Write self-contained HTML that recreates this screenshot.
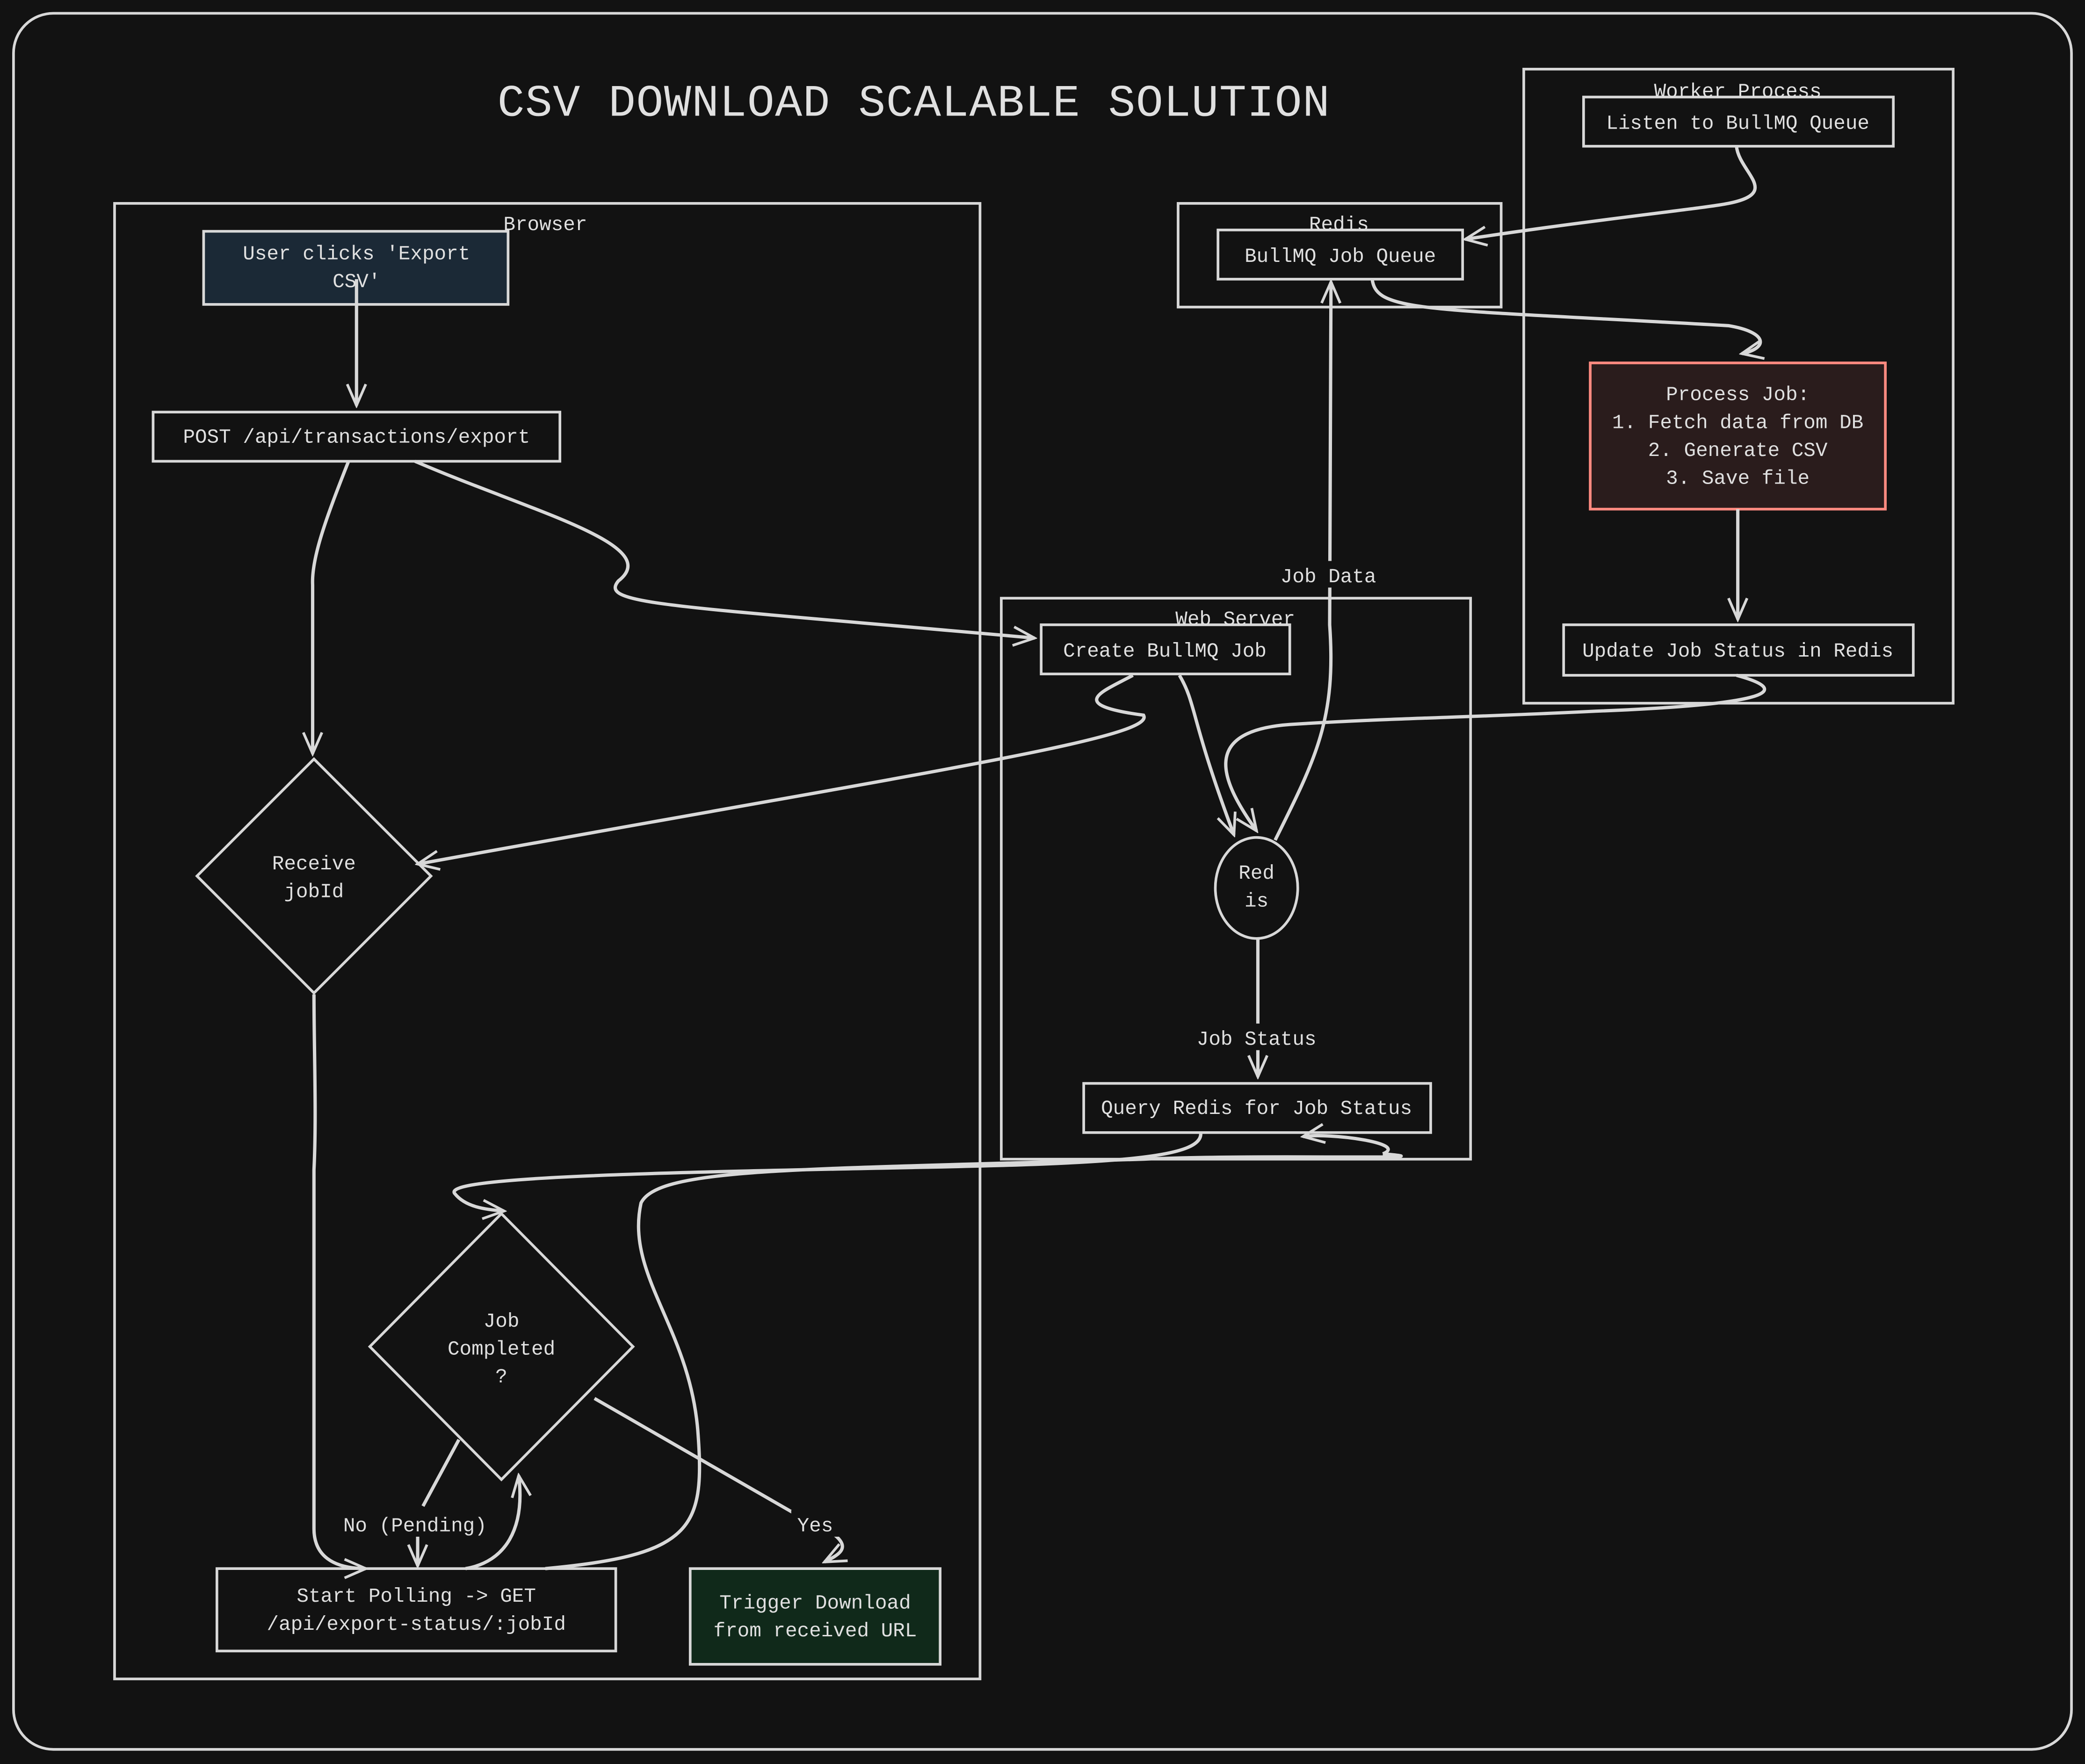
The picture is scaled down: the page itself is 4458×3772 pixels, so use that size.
<!DOCTYPE html>
<html><head><meta charset="utf-8"><style>
html,body{margin:0;padding:0;background:#121212;}
svg{display:block}
text{font-family:"Liberation Mono","DejaVu Sans Mono",monospace;fill:#e0e0e0;}
</style></head><body>
<svg width="4458" height="3772" viewBox="0 0 1568 1327" xmlns="http://www.w3.org/2000/svg">
<defs>
<marker id="a" viewBox="0 0 20 20" refX="18" refY="10" markerWidth="20" markerHeight="20" markerUnits="userSpaceOnUse" orient="auto">
<path d="M2,3 L18,10 L2,17" fill="none" stroke="#d8d8d8" stroke-width="2"/>
</marker>
</defs>
<rect width="1568" height="1327" fill="#121212"/>
<g fill="none" stroke="#d8d8d8" stroke-width="2">
<rect x="10" y="10" width="1548" height="1306" rx="30"/>
<rect x="86" y="153" width="651" height="1110"/>
<rect x="886" y="153" width="243" height="78"/>
<rect x="1146" y="52" width="323" height="477"/>
<rect x="753" y="450" width="353" height="422"/>
<rect x="153" y="174" width="229" height="55" fill="#1b2936"/>
<rect x="115" y="310" width="306" height="37"/>
<polygon points="236,571 324,659 236,747 148,659"/>
<polygon points="377,913 476,1013 377,1113 278,1013"/>
<rect x="163" y="1180" width="300" height="62"/>
<rect x="519" y="1180" width="188" height="72" fill="#10291a"/>
<rect x="916" y="173" width="184" height="37"/>
<rect x="1191" y="73" width="233" height="37"/>
<rect x="1196" y="273" width="222" height="110" fill="#2a1c1c" stroke="#ff8a80"/>
<rect x="1176" y="470" width="263" height="38"/>
<rect x="783" y="470" width="187" height="37"/>
<ellipse cx="945" cy="668" rx="31" ry="38"/>
<rect x="815" y="815" width="261" height="37"/>
</g>
<g fill="none" stroke="#d8d8d8" stroke-width="2.5" marker-end="url(#a)">
<path d="M268,210 L268,305"/>
<path d="M262,347 C245,390 234,420 235,440 L235,567"/>
<path d="M312,347 C400,385 500,410 465,437 C450,455 500,455 778,480"/>
<path d="M852,508 C830,520 800,530 860,538 C870,555 700,580 314,650"/>
<path d="M887,508 C900,530 895,540 928,628"/>
<path d="M1306,110 C1308,130 1340,145 1300,153 C1280,157 1200,165 1102,180"/>
<path d="M1032,210 C1035,235 1070,232 1300,245 C1330,250 1330,262 1310,266"/>
<path d="M1307,383 L1307,466"/>
<path d="M1306,508 C1350,520 1330,530 1200,535 C1100,540 1050,540 970,545 C900,550 920,590 945,625"/>
<path d="M959,632 C990,570 1005,540 1000,470 L1001,212"/>
<path d="M946,705 L946,810"/>
<path d="M903,852 C905,870 850,875 700,878 C500,882 330,885 342,898 C350,908 365,910 379,911"/>
<path d="M1040,868 C1060,860 1000,852 980,855"/>
<path d="M236,748 C236,790 238,840 236,880 L236,1150 C236,1170 250,1180 275,1180"/>
<path d="M314,1140 L314,1178"/>
<path d="M350,1180 C380,1175 395,1150 390,1110"/>
<path d="M628,1155 C640,1165 630,1170 620,1175"/>
</g>
<g fill="none" stroke="#d8d8d8" stroke-width="2.5">
<path d="M345,1083 L318,1133"/>
<path d="M410,1180 C520,1170 530,1150 525,1080 C520,1000 470,960 482,905 C495,878 600,880 860,872 C950,868 1100,873 1040,868"/>
<path d="M447,1052 L600,1140"/>
</g>
<rect x="960" y="422" width="80" height="20" fill="#121212"/>
<rect x="895" y="770" width="100" height="20" fill="#121212"/>
<rect x="250" y="1136" width="125" height="20" fill="#121212"/>
<rect x="595" y="1136" width="38" height="20" fill="#121212"/>
<text x="687" y="87" font-size="34" text-anchor="middle" fill="#dcdcdc" textLength="626">CSV DOWNLOAD SCALABLE SOLUTION</text>
<g font-size="15" text-anchor="middle">
<text x="410" y="173">Browser</text>
<text x="1007" y="173">Redis</text>
<text x="1307" y="73">Worker Process</text>
<text x="929" y="470">Web Server</text>
<text x="268" y="195" fill="#bcc8d4">User clicks 'Export</text>
<text x="268" y="216" fill="#bcc8d4">CSV'</text>
<text x="268" y="333">POST /api/transactions/export</text>
<text x="236" y="654">Receive</text>
<text x="236" y="675">jobId</text>
<text x="377" y="998">Job</text>
<text x="377" y="1019">Completed</text>
<text x="377" y="1040">?</text>
<text x="313" y="1205">Start Polling -&gt; GET</text>
<text x="313" y="1226">/api/export-status/:jobId</text>
<text x="613" y="1210" fill="#c8dcc8">Trigger Download</text>
<text x="613" y="1231" fill="#c8dcc8">from received URL</text>
<text x="1008" y="197">BullMQ Job Queue</text>
<text x="1307" y="97">Listen to BullMQ Queue</text>
<text x="1307" y="301" fill="#ff8a80">Process Job:</text>
<text x="1307" y="322" fill="#ff8a80">1. Fetch data from DB</text>
<text x="1307" y="343" fill="#ff8a80">2. Generate CSV</text>
<text x="1307" y="364" fill="#ff8a80">3. Save file</text>
<text x="1307" y="494">Update Job Status in Redis</text>
<text x="876" y="494">Create BullMQ Job</text>
<text x="945" y="661">Red</text>
<text x="945" y="682">is</text>
<text x="945" y="838">Query Redis for Job Status</text>
<text x="999" y="438">Job Data</text>
<text x="945" y="786">Job Status</text>
<text x="312" y="1152">No (Pending)</text>
<text x="613" y="1152">Yes</text>
</g>
</svg>
</body></html>
